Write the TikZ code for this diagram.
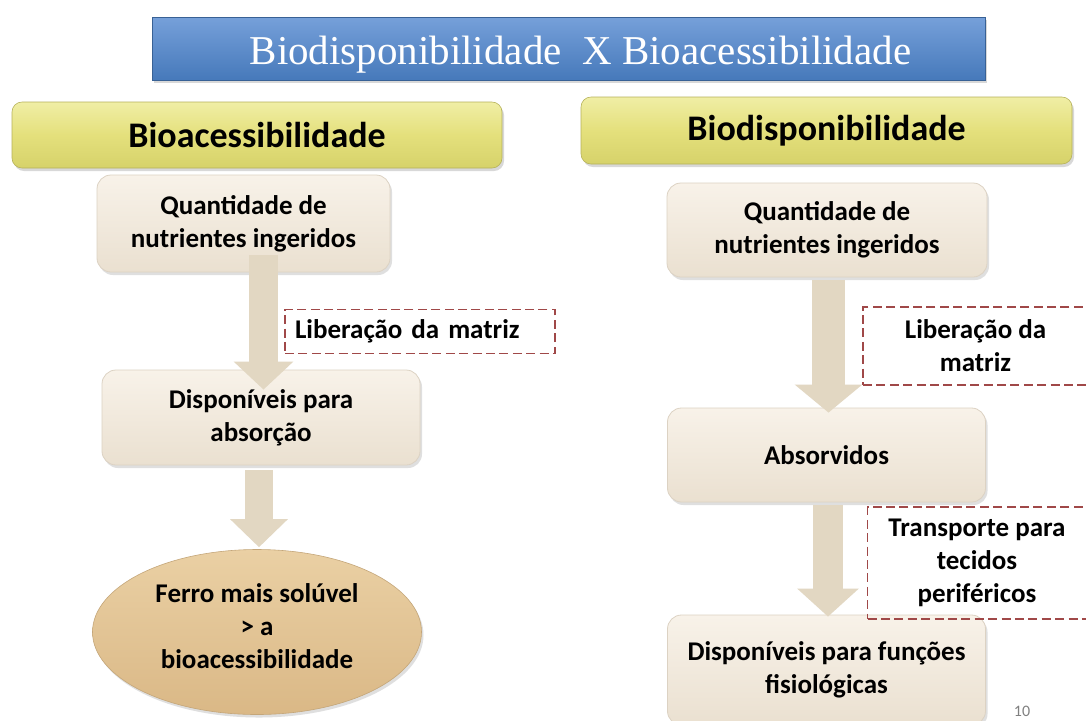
\documentclass[tikz,border=0pt]{standalone}
\usepackage{fontspec}
\setmainfont{Carlito}
\newfontfamily\titlefont{Liberation Serif}
\usetikzlibrary{shapes.geometric,arrows.meta,shadows,calc}
\definecolor{titletop}{RGB}{118,160,218}
\definecolor{titlebot}{RGB}{70,121,186}
\definecolor{hdrtop}{RGB}{240,238,165}
\definecolor{hdrmid}{RGB}{228,224,124}
\definecolor{hdrbot}{RGB}{214,210,106}
\definecolor{boxtop}{RGB}{248,242,233}
\definecolor{boxbot}{RGB}{234,224,208}
\definecolor{boxline}{RGB}{220,210,195}
\definecolor{elltop}{RGB}{234,208,164}
\definecolor{ellbot}{RGB}{218,184,134}
\definecolor{arrowfill}{RGB}{226,215,194}
\definecolor{dashred}{RGB}{160,72,72}
\tikzset{
  titlebar/.style={draw=titlebot!80!black, line width=0.4pt, top color=titletop, bottom color=titlebot,
    minimum width=416.5pt, minimum height=31.5pt, text height=16.5pt, text depth=1pt,
    text=white, font=\titlefont\fontsize{20.5}{24}\selectfont,
    drop shadow={opacity=0.3, shadow xshift=1pt, shadow yshift=-1.5pt}},
  hdr/.style={rounded corners=5pt, draw=hdrbot!85!black, line width=0.3pt, top color=hdrtop, bottom color=hdrbot, middle color=hdrmid,
    minimum width=245pt, minimum height=33pt, font=\bfseries\fontsize{18}{22}\selectfont,
    drop shadow={opacity=0.3, shadow xshift=1pt, shadow yshift=-1.5pt}},
  flowbox/.style={rounded corners=7pt, draw=boxline, line width=0.4pt, top color=boxtop, bottom color=boxbot,
    align=center, font=\bfseries\fontsize{13.5}{16.5}\selectfont,
    drop shadow={opacity=0.25, shadow xshift=1pt, shadow yshift=-1.5pt}},
  ellbox/.style={ellipse, draw=ellbot!90!black, line width=0.3pt, top color=elltop, bottom color=ellbot,
    inner sep=0pt, drop shadow={opacity=0.25, shadow xshift=1pt, shadow yshift=-1.5pt}},
  elltext/.style={align=center, font=\bfseries\fontsize{13.5}{16.5}\selectfont},
  dashbox/.style={draw=dashred, line width=0.8pt, dash pattern=on 4.5pt off 2.2pt,
    font=\bfseries\fontsize{13.5}{16.5}\selectfont},
  blockarrow/.style={draw=arrowfill, fill=arrowfill, line width=#1,
    -{Triangle[width=2*#1, length=14pt]}},
}
\begin{document}
\begin{tikzpicture}[x=0.5pt,y=-0.5pt]
\useasboundingbox (0,0) rectangle (1086,720);
\fill[white] (0,0) rectangle (1086,720);

% title
\node[titlebar] (title) at (568.5,48.5) {\hspace*{12pt}Biodisponibilidade\ \ X Bioacessibilidade};

% headers
\node[hdr, minimum width=245pt, minimum height=33pt] (hl) at (257,135) {Bioacessibilidade};
\node[hdr, minimum width=245.5pt, minimum height=33.5pt] (hr) at (826.5,130.5) {Biodisponibilidade};

% left column
\node[flowbox, minimum width=146.5pt, minimum height=48.5pt] (l1) at (243.5,223.5) {Quantidade de\\nutrientes ingeridos};
\node[flowbox, minimum width=159pt, minimum height=47.5pt] (l2) at (261,417.5) {Disponíveis para\\absorção};
\node[ellbox, minimum width=164.5pt, minimum height=82.5pt] (l3) at (257,632) {};
\node[elltext] (l3t) at ($(l3.center)+(0,-6)$) {Ferro mais solúvel\\> a\\bioacessibilidade};

\draw[blockarrow=14.5pt] ($(l1.south -| l2.north)+(2.5,-17)$) -- ($(l2.north)+(2.5,20)$);
\draw[blockarrow=14pt] ($(l2.south)+(-2,5)$) -- ($(l2.south |- l3.north)+(-2,-2)$);

\node[dashbox, minimum width=135pt, minimum height=22pt, text width=125pt, align=left, inner xsep=5pt] (d1) at (420,331.5) {Liberação da matriz};

% right column
\node[flowbox, minimum width=160pt, minimum height=47pt] (r1) at (827,230) {Quantidade de\\nutrientes ingeridos};
\node[flowbox, minimum width=159pt, minimum height=47pt] (r2) at (826.5,455) {Absorvidos};
\node[flowbox, minimum width=159pt, minimum height=55pt] (r3) at (826.5,670) {Disponíveis para funções\\fisiológicas};

\draw[blockarrow=16.5pt] ($(r1.south)+(1.5,3)$) -- ($(r1.south |- r2.north)+(1.5,5)$);
\draw[blockarrow=15pt] ($(r2.south)+(1.5,3)$) -- ($(r2.south |- r3.north)+(1.5,2)$);

\node[dashbox, minimum width=112.5pt, minimum height=39pt, align=center] (d2) at (975.5,346) {Liberação da\\matriz};
\node[dashbox, minimum width=109.5pt, minimum height=56pt, align=center] (d3) at (977,563) {Transporte para\\tecidos\\periféricos};

% page number
\node[text=gray, font=\fontsize{8}{10}\selectfont] (pg) at (1022,711) {10};
\end{tikzpicture}
\end{document}
